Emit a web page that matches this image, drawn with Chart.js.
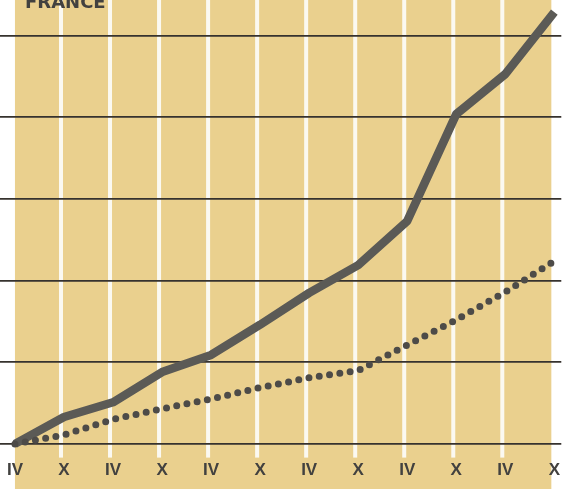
<!DOCTYPE html>
<html>
<head>
<meta charset="utf-8">
<script src="https://cdn.jsdelivr.net/npm/chart.js@4/dist/chart.umd.min.js"></script>
<style>
  html, body { margin: 0; padding: 0; background: #ffffff; }
  #wrap { width: 563px; height: 489px; position: relative; }
</style>
</head>
<body>
<div id="wrap"><canvas id="c"></canvas></div>
<script>
// ---- data ----
const title = "FRANCE";
const categories = ["IV", "X", "IV", "X", "IV", "X", "IV", "X", "IV", "X", "IV", "X"];
const solidValues  = [0, 0.33, 0.51, 0.88, 1.09, 1.46, 1.85, 2.19, 2.73, 4.04, 4.53, 5.29];
const dottedValues = [0, 0.11, 0.30, 0.43, 0.55, 0.69, 0.81, 0.90, 1.21, 1.52, 1.86, 2.24];
const gridValues   = [0, 1, 2, 3, 4, 5];

const YELLOW = "#ead08e";
const STRIPE = "#fbf9f1";
const GRID = "#36322e";
const INK = "#42413f";

const toPoints = vals => vals.map((v, i) => ({ x: i, y: v }));

const backdrop = {
  id: "backdrop",
  beforeDraw(chart) {
    const { ctx, chartArea } = chart;
    const xs = chart.scales.x;
    ctx.save();
    ctx.fillStyle = "#ffffff";
    ctx.fillRect(0, 0, chart.width, chart.height);
    const left = xs.getPixelForValue(0);
    const right = xs.getPixelForValue(categories.length - 1) - 3;
    ctx.fillStyle = YELLOW;
    ctx.fillRect(left, 0, right - left, chart.height);
    ctx.fillStyle = STRIPE;
    for (let i = 1; i < categories.length - 1; i++) {
      const px = xs.getPixelForValue(i) - 3;
      ctx.fillRect(px - 2, 0, 4, chartArea.bottom);
    }
    ctx.restore();
  },
  afterDraw(chart) {
    const { ctx } = chart;
    ctx.save();
    ctx.fillStyle = INK;
    ctx.font = "bold 18px 'DejaVu Sans'";
    ctx.textBaseline = "alphabetic";
    ctx.textAlign = "left";
    ctx.fillText(title, 25, 8);
    ctx.restore();
  }
};

new Chart(document.getElementById("c"), {
  type: "line",
  data: {
    datasets: [
      {
        label: "dotted",
        data: toPoints(dottedValues),
        borderColor: "#4d4b48",
        borderWidth: 7,
        borderDash: [0, 10.4],
        borderCapStyle: "round",
        pointRadius: 0,
        tension: 0,
        fill: false
      },
      {
        label: "solid",
        data: toPoints(solidValues),
        borderColor: "#5b5a56",
        borderWidth: 8.5,
        borderCapStyle: "butt",
        borderJoinStyle: "round",
        pointRadius: 0,
        tension: 0,
        fill: false
      }
    ]
  },
  options: {
    responsive: true,
    maintainAspectRatio: false,
    animation: false,
    layout: { padding: { left: 0, right: 0, top: 0, bottom: 5 } },
    plugins: { legend: { display: false }, tooltip: { enabled: false }, title: { display: false } },
    scales: {
      x: {
        type: "linear",
        min: -0.305,
        max: 11.142,
        grid: { display: false, drawTicks: false },
        border: { display: false },
        afterBuildTicks: s => { s.ticks = categories.map((c, i) => ({ value: i })); },
        ticks: {
          autoSkip: false,
          maxRotation: 0,
          padding: 3,
          color: INK,
          font: { family: "'Liberation Sans'", weight: "bold", size: 17 },
          callback: v => categories[v]
        }
      },
      y: {
        type: "linear",
        min: -0.168,
        max: 5.438,
        afterBuildTicks: s => { s.ticks = gridValues.map(v => ({ value: v })); },
        ticks: { display: false },
        grid: { color: GRID, lineWidth: 1.8, drawTicks: false },
        border: { display: false }
      }
    }
  },
  plugins: [backdrop]
});
</script>
</body>
</html>
